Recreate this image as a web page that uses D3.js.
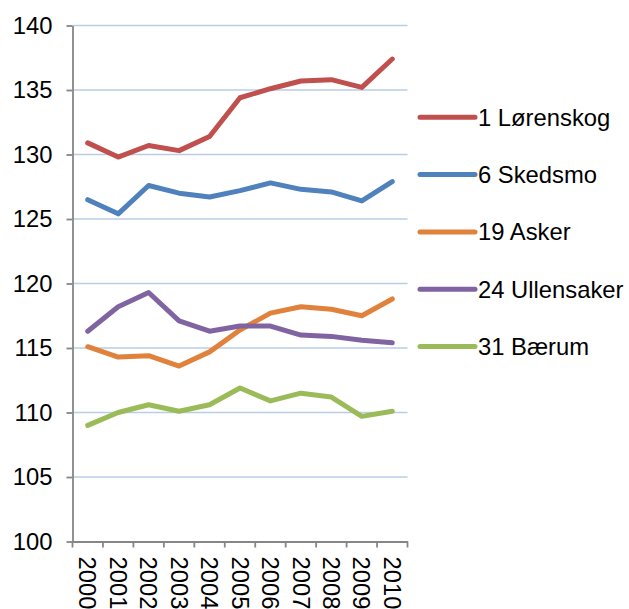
<!DOCTYPE html>
<html>
<head>
<meta charset="utf-8">
<script src="https://cdn.jsdelivr.net/npm/d3@7"></script>
<style>
  html, body { margin: 0; padding: 0; background: #fff; }
  svg { display: block; font-family: "Liberation Sans", Arial, sans-serif; }
</style>
</head>
<body>
<svg id="chart" width="629" height="609"></svg>
<script>
const years = ["2000","2001","2002","2003","2004","2005","2006","2007","2008","2009","2010"];
const seriesNames = ["1 Lørenskog", "6 Skedsmo", "19 Asker", "24 Ullensaker", "31 Bærum"];
const lorenskog  = [130.9, 129.8, 130.7, 130.3, 131.4, 134.4, 135.1, 135.7, 135.8, 135.2, 137.4];
const skedsmo    = [126.5, 125.4, 127.6, 127.0, 126.7, 127.2, 127.8, 127.3, 127.1, 126.4, 127.9];
const asker      = [115.1, 114.3, 114.4, 113.6, 114.7, 116.4, 117.7, 118.2, 118.0, 117.5, 118.8];
const ullensaker = [116.3, 118.2, 119.3, 117.1, 116.3, 116.7, 116.7, 116.0, 115.9, 115.6, 115.4];
const baerum     = [109.0, 110.0, 110.6, 110.1, 110.6, 111.9, 110.9, 111.5, 111.2, 109.7, 110.1];
const yTicks = [100, 105, 110, 115, 120, 125, 130, 135, 140];
const colors = ["#C0504D", "#4F81BD", "#E0823B", "#8064A2", "#9BBB59"];

const seriesValues = [lorenskog, skedsmo, asker, ullensaker, baerum];

const svg = d3.select("#chart");
const mLeft = 72.5, mRight = 407.5, mTop = 25.5, mBottom = 541.5;
const fontSize = 23.8;

const x = d3.scaleBand().domain(years).range([mLeft, mRight]).padding(0);
const y = d3.scaleLinear().domain([100, 140]).range([mBottom, mTop]);

// gridlines
svg.append("g").selectAll("line").data(yTicks.filter(t => t !== 100)).join("line")
  .attr("x1", mLeft).attr("x2", mRight)
  .attr("y1", d => y(d)).attr("y2", d => y(d))
  .attr("stroke", "#B9CDE5").attr("stroke-width", 1.5);

// y axis
const yAxis = svg.append("g").attr("transform", `translate(${mLeft},0)`)
  .call(d3.axisLeft(y).tickValues(yTicks).tickSize(6).tickSizeOuter(0).tickPadding(14));
yAxis.select(".domain").attr("stroke", "#868686").attr("stroke-width", 1.8);
yAxis.selectAll(".tick line").attr("stroke", "#868686").attr("stroke-width", 1.8);
yAxis.selectAll("text").attr("font-size", fontSize).attr("fill", "#000")
  .attr("font-family", '"Liberation Sans", Arial, sans-serif');

// x axis (labels at band centers, ticks at band edges)
const xAxis = svg.append("g").attr("transform", `translate(0,${mBottom})`)
  .call(d3.axisBottom(x).tickSize(0).tickSizeOuter(0));
xAxis.select(".domain").attr("stroke", "#868686").attr("stroke-width", 1.8);
xAxis.selectAll("text")
  .attr("font-size", fontSize).attr("fill", "#000")
  .attr("font-family", '"Liberation Sans", Arial, sans-serif')
  .attr("transform", "rotate(90)")
  .attr("text-anchor", "start")
  .attr("x", 15).attr("y", 0).attr("dy", "0.35em");
const edges = years.map(d => x(d)).concat([x(years[years.length - 1]) + x.bandwidth()]);
svg.append("g").selectAll("line").data(edges).join("line")
  .attr("x1", d => d).attr("x2", d => d)
  .attr("y1", mBottom).attr("y2", mBottom + 6)
  .attr("stroke", "#868686").attr("stroke-width", 1.8);

// lines
const line = d3.line()
  .x((d, i) => x(years[i]) + x.bandwidth() / 2)
  .y(d => y(d));
svg.append("g").selectAll("path").data(seriesValues).join("path")
  .attr("d", d => line(d))
  .attr("fill", "none")
  .attr("stroke", (d, i) => colors[i])
  .attr("stroke-width", 5)
  .attr("stroke-linejoin", "round")
  .attr("stroke-linecap", "round");

// legend
const leg = svg.append("g").selectAll("g").data(seriesNames).join("g")
  .attr("transform", (d, i) => `translate(420,${117.3 + i * 57.3})`);
leg.append("line").attr("x1", 0).attr("x2", 55).attr("y1", 0).attr("y2", 0)
  .attr("stroke", (d, i) => colors[i]).attr("stroke-width", 5).attr("stroke-linecap", "round");
leg.append("text").attr("x", 58).attr("y", 0).attr("dy", "0.35em")
  .attr("font-size", fontSize).attr("fill", "#000").text(d => d);
</script>
</body>
</html>
